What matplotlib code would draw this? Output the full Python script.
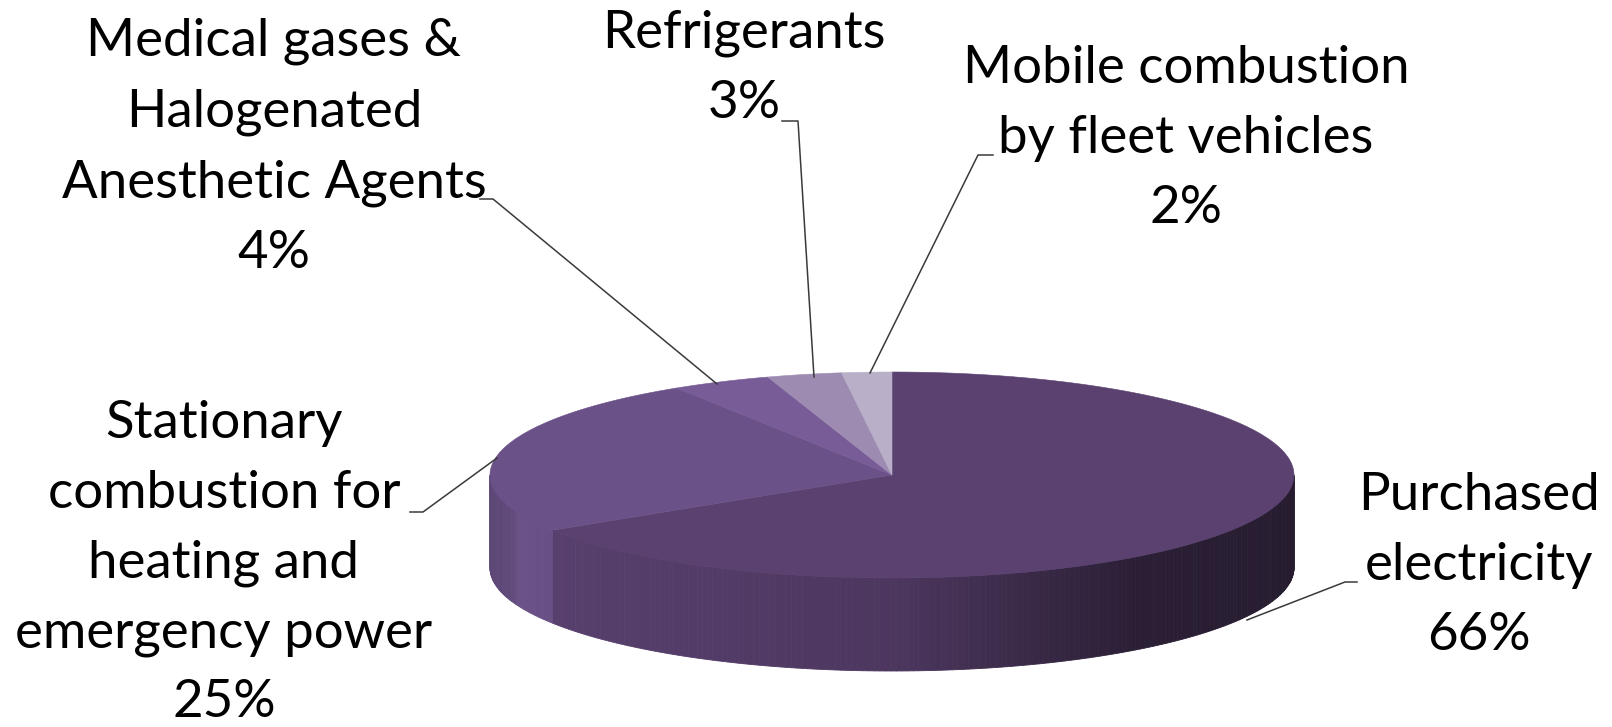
import numpy as np
import matplotlib.pyplot as plt
from matplotlib.colors import to_rgb

# slices, clockwise from 12 o'clock
labels = ['Purchased\nelectricity',
          'Stationary\ncombustion for\nheating and\nemergency power',
          'Medical gases &\nHalogenated\nAnesthetic Agents',
          'Refrigerants',
          'Mobile combustion\nby fleet vehicles']
shares = [66, 25, 4, 3, 2]
colors = ['#5a4170', '#6a5187', '#785c97', '#9d8bb1', '#b9afc9']

W, H = 1612, 727
fig = plt.figure(figsize=(W / 100, H / 100), dpi=100)
ax = fig.add_axes([0, 0, 1, 1])
ax.set_xlim(0, W)
ax.set_ylim(H, 0)
ax.axis('off')

# pie geometry in pixels
cx, cy, rx, ry, depth = 892, 475, 402, 103, 93

fr = np.array(shares) / sum(shares)
ends = 90 - 360 * np.cumsum(fr)
starts = np.r_[90, ends[:-1]]


def rim(a0, a1, n, dy=0):
    t = np.radians(np.linspace(a0, a1, n))
    return cx + rx * np.cos(t), cy - ry * np.sin(t) + dy


def shade(u):
    return np.interp(u, [-1, -0.95, -0.93, -0.8, 0, 0.3, 0.6, 1],
                     [0.88, 0.9, 1.0, 0.97, 0.85, 0.66, 0.48, 0.42])


# side walls (front half only), shaded in narrow strips
for s, e, c in zip(starts, ends, colors):
    lo, hi = max(e, -180), min(s, 0)
    if hi <= lo:
        continue
    edges = np.linspace(hi, lo, int((hi - lo) / 0.8) + 2)
    base = np.array(to_rgb(c))
    for a, b in zip(edges[:-1], edges[1:]):
        xt, yt = rim(a, b, 4)
        xb, yb = rim(b, a, 4, depth)
        u = np.cos(np.radians((a + b) / 2))
        col = np.clip(base * shade(u), 0, 1)
        ax.fill(np.r_[xt, xb], np.r_[yt, yb], color=col, lw=0.6, zorder=1)

# top face
for s, e, c in zip(starts, ends, colors):
    n = max(int(abs(s - e) * 2), 8)
    xs, ys = rim(s, e, n)
    ax.fill(np.r_[cx, xs], np.r_[cy, ys], color=c, lw=0.4, zorder=2)

# label placement: text centre x, baseline of the last line, leader polyline
text_pos = [(1479, 650), (224, 717), (274, 268), (744, 118), (1186, 223)]
leaders = [
    [(1357, 582), (1345, 582), (1247, 620)],
    [(410, 512), (423, 512), (497, 458)],
    [(480, 199), (493, 199), (717, 384)],
    [(782, 121), (798, 121), (814, 377)],
    [(993, 155), (978, 155), (870, 373)],
]
spacing = [1.61, 1.59, 1.61, 1.61, 1.61]

for lab, v, (tx, ty), pts, ls in zip(labels, shares, text_pos, leaders, spacing):
    ax.text(tx, ty, f'{lab}\n{v}%', ha='center', va='baseline',
            multialignment='center', fontsize=38, family=['Lato', 'DejaVu Sans'],
            linespacing=ls, color='black', zorder=4)
    px, py = zip(*pts)
    ax.plot(px, py, color='#3a3a3a', lw=1.1, zorder=3)

fig.savefig('out.png', dpi=100)
